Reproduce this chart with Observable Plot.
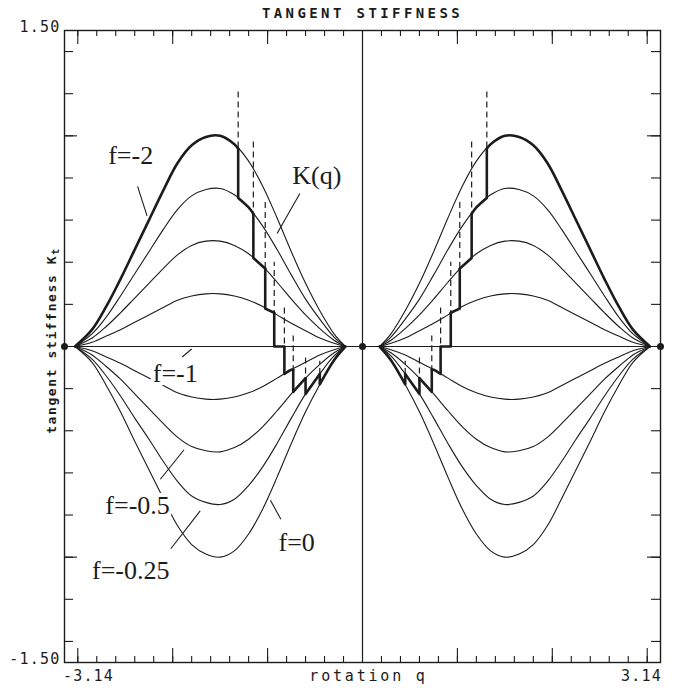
<!DOCTYPE html>
<html><head><meta charset="utf-8">
<script src="https://cdn.jsdelivr.net/npm/d3@7"></script>
<script src="https://cdn.jsdelivr.net/npm/@observablehq/plot@0.6"></script>
<style>body{margin:0;background:#fff} #chart{width:688px;height:690px}</style>
</head><body><div id="chart"></div>
<script>
// |q| grid (rad) on which the curves were read; both halves of the chart are mirror images
const qGrid = [0.18, 0.3, 0.45, 0.6, 0.75, 0.9, 1.05, 1.2, 1.35, 1.5, 1.65, 1.8, 1.95, 2.1, 2.25, 2.4, 2.55, 2.7, 2.85, 3.03];
const kFm2   = [0, .06, .17, .30, .45, .61, .76, .88, .96, 1.0, .995, .955, .87, .74, .60, .46, .32, .19, .08, 0];
const kFm175 = [0, .045, .13, .225, .34, .46, .57, .66, .72, .75, .745, .715, .65, .555, .45, .345, .24, .14, .06, 0];
const kFm15  = [0, .03, .085, .15, .225, .305, .38, .44, .48, .50, .50, .48, .435, .37, .30, .23, .16, .095, .04, 0];
const kFm125 = [0, .015, .04, .075, .11, .15, .19, .22, .24, .25, .25, .24, .22, .185, .15, .115, .08, .05, .02, 0];
const kFm075 = [0, -.015, -.04, -.075, -.11, -.15, -.19, -.22, -.24, -.25, -.25, -.24, -.22, -.185, -.15, -.115, -.08, -.05, -.02, 0];
const kFm05  = [0, -.03, -.085, -.15, -.225, -.305, -.38, -.44, -.48, -.50, -.495, -.475, -.43, -.365, -.295, -.225, -.155, -.095, -.04, 0];
const kFm025 = [0, -.045, -.13, -.225, -.34, -.46, -.57, -.66, -.725, -.75, -.74, -.71, -.64, -.545, -.44, -.34, -.235, -.14, -.06, 0];
const kF0    = [0, -.065, -.18, -.31, -.46, -.62, -.77, -.89, -.97, -1.0, -.985, -.94, -.85, -.72, -.585, -.45, -.31, -.185, -.075, 0];
const curveSeries = [kFm2, kFm175, kFm15, kFm125, kFm075, kFm05, kFm025, kF0];

// K(q) stepped envelope: jump positions |q|, values above/below jump, top of dashed marker
const stepQ     = [1.31, 1.15, 1.025, 0.93, 0.823, 0.73, 0.60, 0.45];
const stepUpper = [0.94, 0.63, 0.37, 0.16, 0, -0.11, -0.15, -0.13];
const stepLower = [0.705, 0.42, 0.18, 0, -0.13, -0.215, -0.225, -0.18];
const dashTop   = [1.21, 0.975, 0.69, 0.40, 0.19, 0.05, -0.04, -0.07];
const kSegQ = [
  [1.31, 1.35, 1.5, 1.65, 1.8, 1.95, 2.1, 2.25, 2.4, 2.55, 2.7, 2.85, 3.03],
  [1.15, 1.2, 1.31], [1.025, 1.05, 1.15], [0.93, 1.025], [0.823, 0.93],
  [0.73, 0.75, 0.823], [0.6, 0.73], [0.45, 0.6], [0.18, 0.3, 0.45]];
const kSegK = [
  [0.94, 0.96, 1.0, 0.995, 0.955, 0.87, 0.74, 0.60, 0.46, 0.32, 0.19, 0.08, 0],
  [0.63, 0.66, 0.705], [0.37, 0.38, 0.42], [0.16, 0.18], [0, 0],
  [-0.11, -0.11, -0.13], [-0.15, -0.215], [-0.13, -0.225], [0, -0.065, -0.18]];

// labels and leaders
const labelText = ["f=-2", "K(q)", "f=-1", "f=-0.5", "f=-0.25", "f=0"];
const labelQ = [-2.68, -0.74, -2.21, -2.71, -2.85, -0.885];
const labelK = [0.905, 0.81, -0.128, -0.755, -1.063, -0.93];
const leaderQ1 = [-2.37, -0.66, -1.80, -2.13, -2.02, -0.86];
const leaderK1 = [0.76, 0.726, -0.012, -0.63, -0.96, -0.82];
const leaderQ2 = [-2.27, -0.90, -1.90, -1.88, -1.71, -0.97];
const leaderK2 = [0.62, 0.536, -0.05, -0.49, -0.78, -0.73];
const markerQ = [-3.14, 0, 3.14];

const titleText = "TANGENT STIFFNESS";
const xLabel = "rotation q";
const yLabel = "tangent stiffness K";
const yLabelSub = "t";
const xEndLabels = ["-3.14", "3.14"];
const yEndLabels = ["1.50", "-1.50"];

const ink = "#1c1c1c";
const W = 688, H = 690, mT = 30, mB = 28, mL = 64, mR = 28;
const fw = W - mL - mR, fh = H - mT - mB;
const mono = "DejaVu Sans Mono";
const serif = "Liberation Serif";

const sides = [-1, 1];
const curveRows = curveSeries.flatMap((arr, ci) => sides.flatMap(s =>
  qGrid.map((q, i) => ({id: ci + "_" + s, q: s * q, k: arr[i]}))));
const kRows = kSegQ.flatMap((qs, si) => sides.flatMap(s =>
  qs.map((q, i) => ({id: si + "_" + s, q: s * q, k: kSegK[si][i]}))));
const stepRows = stepQ.flatMap((q, i) => sides.map(s => ({q: s * q, hi: stepUpper[i], lo: stepLower[i], top: dashTop[i]})));
const labels = labelText.map((t, i) => ({t, q: labelQ[i], k: labelK[i]}));
const leaders = leaderQ1.map((q, i) => ({q1: q, k1: leaderK1[i], q2: leaderQ2[i], k2: leaderK2[i]}));

const xMinor = d3.range(-3, 3.001, 0.2).map(v => +v.toFixed(2)).filter(v => Math.abs(v) > 1e-9);
const xMajor = [-3, -2, -1, 1, 2, 3];
const yMinor = d3.range(-1.4, 1.401, 0.2).map(v => +v.toFixed(2)).filter(v => Math.abs(v) > 1e-9);
const yMajor = [-1, 1];

const numStyle = {fontFamily: mono, fontSize: 15, fill: ink, lineAnchor: "middle", text: d => d};

const plot = Plot.plot({
  width: W, height: H, marginTop: mT, marginBottom: mB, marginLeft: mL, marginRight: mR,
  x: {domain: [-3.14, 3.14], axis: null},
  y: {domain: [-1.5, 1.5], axis: null},
  style: {background: "#fff", color: ink},
  marks: [
    Plot.line(curveRows, {x: "q", y: "k", z: "id", curve: "catmull-rom", stroke: ink, strokeWidth: 1.1}),
    Plot.ruleY([0], {stroke: ink, strokeWidth: 1.2}),
    Plot.ruleX([0], {stroke: ink, strokeWidth: 1.2}),
    Plot.ruleX(stepRows, {x: "q", y1: "lo", y2: "top", stroke: ink, strokeWidth: 1.2, strokeDasharray: "6,4"}),
    Plot.ruleX(stepRows, {x: "q", y1: "lo", y2: "hi", stroke: ink, strokeWidth: 2.6}),
    Plot.line(kRows, {x: "q", y: "k", z: "id", curve: "catmull-rom", stroke: ink, strokeWidth: 2.6}),
    Plot.text(labels, {x: "q", y: "k", text: "t", textAnchor: "start", fontFamily: serif, fontSize: 26,
      fill: ink, stroke: "white", strokeWidth: 8}),
    Plot.link(leaders, {x1: "q1", y1: "k1", x2: "q2", y2: "k2", stroke: ink, strokeWidth: 1.1}),
    Plot.dot(markerQ, {x: d => d, y: () => 0, r: 3.5, fill: ink}),
    // ticks, inward on all four sides
    Plot.tickX(xMinor, {x: d => d, insetTop: fh - 6, stroke: ink, strokeWidth: 1.1}),
    Plot.tickX(xMinor, {x: d => d, insetBottom: fh - 6, stroke: ink, strokeWidth: 1.1}),
    Plot.tickX(xMajor, {x: d => d, insetTop: fh - 14, stroke: ink, strokeWidth: 1.1}),
    Plot.tickX(xMajor, {x: d => d, insetBottom: fh - 14, stroke: ink, strokeWidth: 1.1}),
    Plot.tickY(yMinor, {y: d => d, insetRight: fw - 9, stroke: ink, strokeWidth: 1.1}),
    Plot.tickY(yMinor, {y: d => d, insetLeft: fw - 9, stroke: ink, strokeWidth: 1.1}),
    Plot.tickY(yMajor, {y: d => d, insetRight: fw - 13, stroke: ink, strokeWidth: 1.1}),
    Plot.tickY(yMajor, {y: d => d, insetLeft: fw - 13, stroke: ink, strokeWidth: 1.1}),
    Plot.frame({stroke: ink, strokeWidth: 1.4}),
    // texts
    Plot.text([titleText], {...numStyle, frameAnchor: "top", dy: -17, fontWeight: "bold", fontSize: 14}),
    Plot.text([yEndLabels[0]], {...numStyle, frameAnchor: "top-left", dx: -4, dy: -3, textAnchor: "end"}),
    Plot.text([yEndLabels[1]], {...numStyle, frameAnchor: "bottom-left", dx: -4, dy: -3, textAnchor: "end"}),
    Plot.text([xEndLabels[0]], {...numStyle, frameAnchor: "bottom-left", dx: 24, dy: 14, textAnchor: "middle"}),
    Plot.text([xEndLabels[1]], {...numStyle, frameAnchor: "bottom-right", dx: -19, dy: 14, textAnchor: "middle"}),
    Plot.text([xLabel], {...numStyle, frameAnchor: "bottom", dx: 6, dy: 14}),
    Plot.text([yLabel], {...numStyle, frameAnchor: "left", dx: -13, dy: -6, rotate: -90, textAnchor: "middle", fontSize: 13, fontWeight: 600})
  ]
});
const svg = d3.select(plot);
const byText = s => svg.selectAll("text").filter(function() { return this.textContent === s; });
byText(titleText).style("letter-spacing", "3.4px");
byText(xLabel).style("letter-spacing", "2.8px");
[...xEndLabels, ...yEndLabels].forEach(s => byText(s).style("letter-spacing", "1.2px"));
const yl = byText(yLabel).style("letter-spacing", "1.6px");
yl.append("tspan").attr("dy", "0.35em").attr("font-size", 10).text(yLabelSub);
document.getElementById("chart").appendChild(plot);
</script></body></html>
